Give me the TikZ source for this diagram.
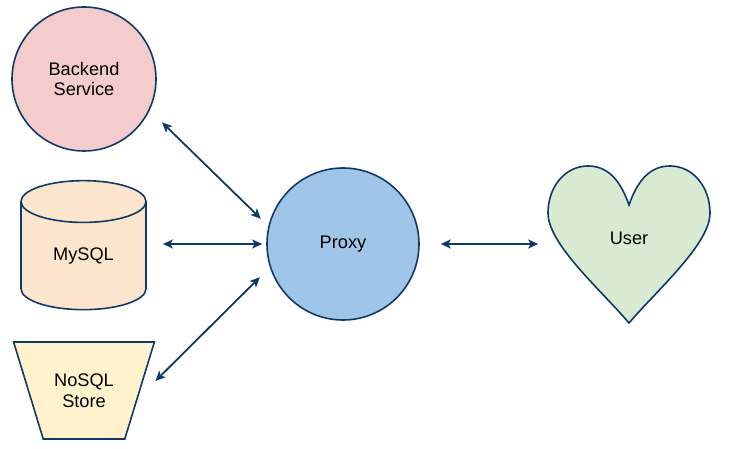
\documentclass[tikz,border=0pt]{standalone}
\usepackage{fontspec}
\setmainfont{Liberation Sans}
\usetikzlibrary{shapes.geometric,arrows.meta,positioning,calc}

\definecolor{edgeblue}{RGB}{16,58,102}
\definecolor{backpink}{HTML}{F4CCCC}
\definecolor{sqlpeach}{HTML}{FCE5CD}
\definecolor{nosqlyellow}{HTML}{FFF2CC}
\definecolor{proxyblue}{HTML}{9FC5E8}
\definecolor{usergreen}{HTML}{D9EAD3}

\begin{document}
\begin{tikzpicture}[
    x=1pt, y=1pt,
    svc/.style={draw=edgeblue, line width=1.6pt, font=\fontsize{18.2}{20.5}\selectfont, align=center, inner sep=0pt},
    link/.style={<->, >={Stealth[length=10pt,width=9pt,inset=2.5pt]}, line width=1.8pt, edgeblue}
]
    \useasboundingbox (0,0) rectangle (729,449);

    % Stores and services on the left
    \node[svc, circle, fill=backpink, minimum size=144pt] (backend) at (84,370) {Backend\\Service};
    \node[svc, cylinder, shape border rotate=90, aspect=0.688, fill=sqlpeach,
          minimum width=125pt, minimum height=129pt] (mysql) at (83.5,193) {MySQL};
    \node[svc, trapezium, trapezium stretches, shape border rotate=180,
          trapezium left angle=57, trapezium right angle=57,
          minimum width=141pt, minimum height=97pt, fill=nosqlyellow] (nosql) at (84,58.5) {NoSQL\\Store};

    % Proxy in the middle
    \node[svc, circle, fill=proxyblue, minimum size=152pt] (proxy) at (343,205) {Proxy};

    % User (heart)
    \draw[draw=edgeblue, line width=1.6pt, fill=usergreen]
        (629,244) .. controls (620,270) and (607,283) .. (588,283)
        .. controls (565,283) and (548,262) .. (548,236)
        .. controls (548,205) and (600,160) .. (629,126)
        .. controls (658,160) and (710,205) .. (710,236)
        .. controls (710,262) and (693,283) .. (670,283)
        .. controls (651,283) and (638,270) .. (629,244) -- cycle;
    \node[svc, draw=none, minimum width=162pt] (user) at (629,211) {User};

    % Links
    \draw[link] ([shift={(15,-7)}]backend.-30) -- ([shift={(-10,-1)}]proxy.160);
    \draw[link] ([shift={(16,12)}]mysql.east) -- ([xshift=-4]proxy.west);
    \draw[link] ([shift={(15,9.5)}]nosql.east) -- ([shift={(-11,-7)}]proxy.200);
    \draw[link] ([xshift=21]proxy.east) -- ([shift={(-9,-6)}]user.west);
\end{tikzpicture}
\end{document}
